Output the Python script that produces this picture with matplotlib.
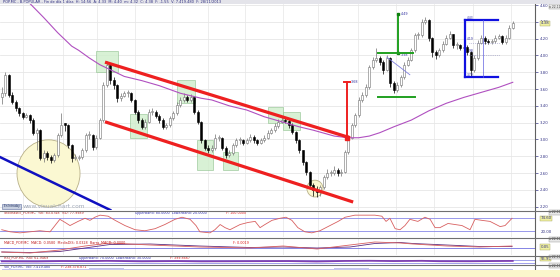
import matplotlib
matplotlib.use('Agg')
import matplotlib.pyplot as plt
from matplotlib.patches import Rectangle, Ellipse
from matplotlib.lines import Line2D

# ---- daily candles (one bar ~ 2 sessions) ----
opens = [3.50,3.55,3.77,3.53,3.45,3.37,3.31,3.27,3.29,3.23,
         3.08,3.11,2.78,2.84,2.79,2.75,2.81,3.05,3.19,3.17,
         2.93,2.78,2.78,2.79,2.87,3.05,3.05,2.91,3.02,3.23,
         3.65,3.89,3.71,3.65,3.49,3.52,3.55,3.55,3.47,3.33,
         3.23,3.15,3.21,3.33,3.33,3.28,3.23,3.15,3.17,3.25,
         3.31,3.41,3.47,3.51,3.47,3.50,3.33,3.21,2.99,2.90,
         2.87,2.90,3.02,3.02,2.90,2.81,2.84,2.93,2.99,2.99,
         2.96,2.99,3.03,2.99,2.96,2.99,3.02,3.08,3.11,3.16,
         3.21,3.23,3.22,3.17,3.09,2.99,2.87,2.73,2.61,2.46,
         2.40,2.37,2.43,2.55,2.60,2.60,2.64,2.60,2.61,2.85,
         3.02,3.17,3.29,3.47,3.53,3.62,3.86,3.95,3.97,3.92,
         3.83,3.97,3.67,3.59,3.65,3.74,3.89,3.95,4.06,4.24,
         4.24,4.40,4.42,4.21,4.04,4.00,4.06,4.14,4.21,4.25,
         4.12,4.12,4.09,4.10,4.04,3.83,3.97,4.15,4.21,4.17,
         4.16,4.17,4.21,4.23,4.16,4.21,4.33]
highs = [3.62,3.80,3.78,3.56,3.47,3.39,3.33,3.31,3.30,3.25,
         3.14,3.12,2.88,2.86,2.81,2.84,3.08,3.31,3.20,3.18,
         2.95,2.83,2.82,2.90,3.08,3.10,3.06,3.05,3.26,3.68,
         3.93,3.90,3.74,3.66,3.55,3.58,3.59,3.57,3.48,3.35,
         3.25,3.24,3.36,3.37,3.35,3.30,3.25,3.20,3.28,3.34,
         3.44,3.50,3.55,3.53,3.54,3.51,3.35,3.22,3.01,2.93,
         2.93,3.06,3.05,3.03,2.92,2.87,2.96,3.02,3.03,3.01,
         3.02,3.06,3.05,3.01,3.02,3.05,3.11,3.14,3.19,3.24,
         3.27,3.26,3.24,3.19,3.10,3.00,2.88,2.74,2.62,2.48,
         2.44,2.46,2.58,2.65,2.64,2.68,2.66,2.65,2.88,3.05,
         3.20,3.32,3.50,3.57,3.66,3.89,3.98,4.09,3.99,3.94,
         4.00,3.98,3.69,3.68,3.77,3.92,3.98,4.09,4.27,4.28,
         4.43,4.46,4.43,4.22,4.06,4.09,4.17,4.24,4.29,4.26,
         4.16,4.14,4.14,4.12,4.05,4.00,4.18,4.24,4.23,4.20,
         4.20,4.24,4.26,4.24,4.24,4.36,4.41]
lows = [3.42,3.52,3.50,3.42,3.34,3.28,3.24,3.25,3.20,3.05,
        2.87,2.75,2.73,2.76,2.72,2.73,2.79,3.03,3.10,2.90,
        2.73,2.75,2.76,2.77,2.85,3.00,2.88,2.89,3.00,3.21,
        3.62,3.66,3.60,3.44,3.46,3.50,3.51,3.45,3.30,3.20,
        3.12,3.13,3.19,3.29,3.25,3.20,3.12,3.13,3.15,3.23,
        3.29,3.39,3.45,3.44,3.45,3.30,3.18,2.96,2.87,2.84,
        2.85,2.88,2.98,2.87,2.78,2.79,2.82,2.91,2.95,2.93,
        2.94,2.97,2.96,2.93,2.94,2.97,3.00,3.06,3.09,3.14,
        3.19,3.19,3.14,3.06,2.96,2.84,2.70,2.58,2.42,2.33,
        2.31,2.33,2.41,2.53,2.56,2.58,2.57,2.56,2.60,2.83,
        3.00,3.15,3.27,3.44,3.50,3.60,3.84,3.92,3.88,3.78,
        3.81,3.62,3.55,3.57,3.63,3.72,3.87,3.93,4.04,4.19,
        4.22,4.37,4.17,3.98,3.96,3.98,4.04,4.12,4.19,4.09,
        4.08,4.06,4.06,4.00,3.75,3.80,3.95,4.13,4.14,4.13,
        4.13,4.15,4.19,4.13,4.14,4.19,4.31]
closes = [3.55,3.77,3.53,3.45,3.37,3.31,3.27,3.29,3.23,3.08,
          3.11,2.78,2.84,2.79,2.75,2.81,3.05,3.17,3.17,2.93,
          2.78,2.78,2.79,2.87,3.05,3.05,2.91,3.02,3.23,3.65,
          3.89,3.71,3.65,3.49,3.52,3.55,3.55,3.47,3.33,3.23,
          3.15,3.21,3.33,3.33,3.28,3.23,3.15,3.17,3.25,3.31,
          3.41,3.47,3.51,3.47,3.50,3.33,3.21,2.99,2.90,2.87,
          2.90,3.02,3.02,2.90,2.81,2.84,2.93,2.99,2.99,2.96,
          2.99,3.03,2.99,2.96,2.99,3.02,3.08,3.11,3.16,3.21,
          3.23,3.22,3.17,3.09,2.99,2.87,2.73,2.61,2.46,2.40,
          2.37,2.43,2.55,2.60,2.60,2.64,2.60,2.61,2.85,3.02,
          3.17,3.29,3.47,3.53,3.62,3.86,3.95,3.97,3.92,3.83,
          3.97,3.67,3.59,3.65,3.74,3.89,3.95,4.06,4.24,4.24,
          4.40,4.42,4.21,4.04,4.00,4.06,4.14,4.21,4.25,4.12,
          4.12,4.09,4.10,4.04,3.83,3.97,4.15,4.21,4.17,4.16,
          4.17,4.21,4.23,4.16,4.21,4.33,4.38]

# 200 session moving average (purple)
ma_idx = [8,12,16,20,22,25,28,31,35,40,45,51,57,60,65,70,75,80,85,89,95,99,102,105,108,112,117,122,127,132,137,142,146]
ma_val = [4.62,4.45,4.27,4.11,4.06,3.97,3.89,3.83,3.75,3.70,3.64,3.55,3.49,3.47,3.40,3.35,3.27,3.21,3.15,3.11,3.04,3.02,3.02,3.04,3.08,3.15,3.23,3.34,3.43,3.50,3.56,3.62,3.68]

month_pos = [6.1,17.5,27.2,38.1,48.6,58.9,69.5,80.4,90.4,101.8,112.6,123.5,134.6,145.5]
month_lbl = ['Nov','Dic','13','Feb','Mar','Abr','May','Jun','Jul','Ago','Sep','Oct','Nov','Dic']
price_ticks = [2.20,2.40,2.60,2.80,3.00,3.20,3.40,3.60,3.80,4.00,4.20,4.40,4.60]

# drawn studies
chan_up = ([29.5, 99.5], [3.92, 3.02])
chan_low = ([29.5, 100.4], [3.21, 2.255])
blue_trend = ([-0.5, 31.0], [2.79, 2.16])
green_boxes = [(26.9,33.2,3.80,4.05),(36.6,41.5,3.02,3.30),(50.2,55.2,3.43,3.71),
               (55.8,60.4,2.64,2.99),(63.2,67.5,2.64,2.85),(76.1,80.4,3.20,3.39),
               (80.4,85.2,3.11,3.33)]

# indicators
sto_idx = [0,2.4,5.2,8.1,10.9,13.8,16.6,18.1,19.5,21.8,23.8,25.2,26.6,28.1,30.4,32.4,35.2,38.1,40.9,43.8,
           46.6,49.5,51.5,53.8,55.5,56.6,59.5,60.9,62.4,63.8,65.2,68.1,70.4,72.4,73.8,75.2,77.2,79.5,81.2,82.9,
           84.6,86.6,88.6,90.9,93.2,96.1,98.1,100.9,103.8,106.6,108.6,109.8,110.9,112.4,113.8,115.2,116.6,118.9,120.9,122.4,
           123.8,125.2,127.5,129.5,131.5,133.8,135.2,137.2,139.5,142.4,143.8,145.8]
sto_val = [25,15,10,15,20,15,75,60,45,65,80,70,85,95,90,70,45,25,20,30,
           50,75,85,75,45,15,10,25,50,35,25,50,60,65,35,50,70,80,85,70,
           35,15,10,20,40,65,85,95,95,95,90,65,80,30,25,45,75,65,85,75,
           35,35,55,50,45,25,75,70,65,40,45,80]
macd_idx = [0,8.1,16.6,23.8,30.9,42.4,56.6,70.9,80.4,90.1,99.5,106.6,113.8,117.5,127.2,136.6,145.8]
macd_val = [-0.05,-0.06,-0.03,0.01,0.04,0.02,0.0,-0.01,0.01,-0.02,0.02,0.05,0.04,0.03,0.01,0.0,0.01]
macd_sig = [-0.05,-0.055,-0.045,-0.01,0.025,0.03,0.01,-0.005,0.0,-0.01,0.0,0.035,0.045,0.035,0.02,0.005,0.005]
rsi_idx = [0,10,17,25,30,40,50,57,65,75,82,90,98,105,112,120,125,134,140,146]
rsi_val = [42,38,55,52,65,42,55,40,45,52,55,35,60,68,55,66,48,45,55,62]
vol_idx = [0,10,20,30,40,50,60,70,80,90,100,110,120,130,140,146]
vol_val = [20,22,18,30,20,18,22,16,18,25,35,24,20,18,16,17]

W, H = 560, 277
fig = plt.figure(figsize=(5.6, 2.77), dpi=100)
fig.patch.set_facecolor('white')

def box(top, bottom, width=535):
    return [0, 1 - bottom / H, width / W, (bottom - top) / H]

XL = (-0.5, 535 / 3.5 - 0.5)
ax = fig.add_axes(box(4, 210))
ax_sto = fig.add_axes(box(211, 237))
ax_macd = fig.add_axes(box(238, 255))
ax_rsi = fig.add_axes(box(256, 264.5))
ax_vol = fig.add_axes(box(265, 270))
ax_date = fig.add_axes(box(270, 277))

for a in [ax, ax_sto, ax_macd, ax_rsi, ax_vol, ax_date]:
    a.set_xlim(*XL)
    a.set_xticks([])
    a.set_yticks([])
    for s in a.spines.values():
        s.set_visible(False)
    a.spines['right'].set_visible(True)
    a.spines['right'].set_color('#606060')
    a.spines['right'].set_linewidth(0.8)

# header and bands
fig.patches.append(Rectangle((0, 1 - 4 / H), 1, 4 / H, transform=fig.transFigure,
                             facecolor='#e4e4ea', edgecolor='none'))
fig.text(3 / W, 1 - 2.2 / H, 'POP.MC - B.POPULAR - Fin de día 1 días  H: 14:56  A: 4.33  M: 4.40  m: 4.32  '
         'C: 4.38  F: -1.55  V: 7.419.480  F: 28/11/2013', fontsize=2.6, color='#303080', va='center')
fig.patches.append(Rectangle((0, 0), 1, 7 / H, transform=fig.transFigure,
                             facecolor='#fbf6cc', edgecolor='none', zorder=0))
ax_date.set_facecolor('none')
ax_date.spines['right'].set_visible(False)
for y in [210.5, 237.5, 255.5, 264.8]:
    fig.lines.append(Line2D([0, 1], [1 - y / H] * 2, transform=fig.transFigure,
                            color='#707070', lw=0.8))

# ---- main price panel ----
ax.set_ylim(2.16, 4.612)
for p in price_ticks:
    ax.axhline(p, color='#e2e2e2', lw=0.5, zorder=0)
for m in month_pos:
    for a in [ax, ax_sto, ax_macd]:
        a.axvline(m, color='#e6e6e6', lw=0.5, zorder=0)

ax.add_patch(Ellipse((13.36, 2.595), 18, 0.80, facecolor='#fbf8d2', edgecolor='#b8b088', lw=0.6, zorder=1))
ax.add_patch(Ellipse((89.5, 2.415), 4.6, 0.20, facecolor='#fbf8d2', edgecolor='#b8b088', lw=0.6, zorder=1))
for x0, x1, y0, y1 in green_boxes:
    ax.add_patch(Rectangle((x0, y0), x1 - x0, y1 - y0, facecolor='#cfeecb', edgecolor='#8cc08c',
                           lw=0.5, alpha=0.8, zorder=1))

idx = list(range(len(closes)))
up = [c >= o for o, c in zip(opens, closes)]
ax.vlines(idx, lows, highs, colors=['#707070' if u else '#000000' for u in up], lw=0.5, zorder=3)
bottoms = [min(o, c) for o, c in zip(opens, closes)]
heights = [max(abs(c - o), 0.01) for o, c in zip(opens, closes)]
ax.bar(idx, heights, bottom=bottoms, width=0.6,
       color=['white' if u else 'black' for u in up],
       edgecolor=['#707070' if u else 'black' for u in up], lw=0.4, zorder=4)

ax.plot(ma_idx, ma_val, color='#b050c0', lw=0.8, zorder=5)
ax.plot(*chan_up, color='#ee2020', lw=2.3, solid_capstyle='butt', zorder=6)
ax.plot(*chan_low, color='#ee2020', lw=2.3, solid_capstyle='butt', zorder=6)
ax.plot(*blue_trend, color='#1010c0', lw=1.8, zorder=6)

# red target
ax.plot([98.6, 98.6], [3.02, 3.68], color='#ee2020', lw=1.4, zorder=6)
ax.plot([97.8, 99.4], [3.68, 3.68], color='#ee2020', lw=1.4, zorder=6)
ax.plot([98.6], [3.02], marker='s', ms=3, color='#ee2020', zorder=6)
ax.text(99.8, 3.68, '3.68', fontsize=2.4, color='#3030a0', va='center')

# green target
ax.plot([113.2, 113.2], [4.03, 4.49], color='#20a020', lw=1.4, zorder=6)
ax.plot([113.2, 113.2], [4.03, 4.49], ls='none', marker='s', ms=2, color='#108010', zorder=6)
ax.plot([107.5, 117.5], [4.03, 4.03], color='#20a020', lw=1.4, zorder=6)
ax.plot([107.5, 118.0], [3.50, 3.50], color='#20a020', lw=1.4, zorder=6)
ax.text(114.0, 4.49, '4.49', fontsize=2.4, color='#3030a0', va='center')
ax.text(114.0, 4.01, '3.98', fontsize=2.4, color='#3030a0', va='center')
ax.plot([110.0, 116.6], [3.98, 3.77], color='#8080e0', lw=0.6, zorder=6)

# blue range bracket
ax.plot([132.4, 132.4], [3.74, 4.42], color='#1010e0', lw=1.6, zorder=6)
ax.plot([132.4, 141.8], [4.42, 4.42], color='#1010e0', lw=1.6, zorder=6)
ax.plot([132.4, 141.8], [3.74, 3.74], color='#1010e0', lw=1.6, zorder=6)
ax.plot([137.5, 137.5], [3.74, 4.42], color='#6060e0', lw=0.5, zorder=6)
ax.plot([133.5, 142.5], [4.00, 4.00], color='#9090c0', lw=0.5, ls=':', zorder=6)
ax.plot([133.5, 142.5], [4.15, 4.15], color='#9090c0', lw=0.5, ls=':', zorder=6)
for yv, t in [(4.44, '4.43'), (4.19, '4.19'), (4.05, '3.98'), (3.77, '3.79')]:
    ax.text(133.0, yv, t, fontsize=2.2, color='#3030a0', va='center')

ax.yaxis.tick_right()
ax.set_yticks(price_ticks)
ax.set_yticklabels(['%.2f' % p for p in price_ticks])
ax.tick_params(axis='y', labelsize=2.8, colors='#3a3a8a', length=2, width=0.5, pad=1.5)
ax.text(1.0, 1 - 0.6 / 206 * 3, '', transform=ax.transAxes)
ax.annotate('4.38', xy=(1.0, 4.38), xycoords=('axes fraction', 'data'), xytext=(4, 0),
            textcoords='offset points', fontsize=2.8, color='#303080', va='center',
            bbox=dict(boxstyle='square,pad=0.15', fc='#f0f0a0', ec='#a0a060', lw=0.3))

fig.patches.append(Rectangle((2 / W, 1 - 208.5 / H), 19 / W, 5 / H, transform=fig.transFigure,
                             facecolor='#c8d0e0', edgecolor='#6070a0', lw=0.4))
fig.text(11.5 / W, 1 - 206 / H, 'En Intraday', fontsize=2.0, color='#203060', ha='center', va='center')
fig.text(23 / W, 1 - 206 / H, 'www.visualchart.com', fontsize=4.2, color='#a0a8b8', va='center')

# ---- stochastic ----
ax_sto.set_ylim(-10, 115)
ax_sto.axhline(80, color='#8888e8', lw=0.6)
ax_sto.axhline(20, color='#8888e8', lw=0.6)
ax_sto.plot(sto_idx, sto_val, color='#d86060', lw=0.6)
ax_sto.text(0.6, 106, 'Stochastic_POP.MC  %K: 83.0748  %D: 77.9989  ', fontsize=2.4, color='#c02020', va='center')
ax_sto.text(38, 106, 'UpperBand: 80.0000  LowerBand: 20.0000', fontsize=2.4, color='#3030b0', va='center')
ax_sto.text(64, 106, 'F: 100.0000', fontsize=2.4, color='#e02020', va='center')
ax_sto.annotate('74.60', xy=(1.0, 80), xycoords=('axes fraction', 'data'), xytext=(4, 0),
                textcoords='offset points', fontsize=2.8, color='#303080', va='center',
                bbox=dict(boxstyle='square,pad=0.15', fc='#f0f0a0', ec='#a0a060', lw=0.3))
ax_sto.annotate('20.00', xy=(1.0, 15), xycoords=('axes fraction', 'data'), xytext=(4, 0),
                textcoords='offset points', fontsize=2.8, color='#303080', va='center')

# ---- MACD ----
ax_macd.set_ylim(-0.08, 0.09)
ax_macd.axhline(-0.005, color='#7070e0', lw=0.6)
ax_macd.plot(macd_idx, macd_sig, color='#603080', lw=0.6)
ax_macd.plot(macd_idx, macd_val, color='#d86060', lw=0.6)
ax_macd.text(0.6, 0.045, 'MACD_POP.MC  MACD: 0.0580  MediaDIS: 0.0328  Barra_MACD: 0.0000  ', fontsize=2.4,
             color='#c02020', va='center')
ax_macd.text(66, 0.045, 'F: 0.0019', fontsize=2.4, color='#e02020', va='center')
ax_macd.annotate('0.05', xy=(1.0, 0.0), xycoords=('axes fraction', 'data'), xytext=(4, 0),
                 textcoords='offset points', fontsize=2.8, color='#303080', va='center',
                 bbox=dict(boxstyle='square,pad=0.15', fc='#f0f0a0', ec='#a0a060', lw=0.3))

# ---- RSI ----
ax_rsi.set_ylim(3, 123)
ax_rsi.axhline(70, color='#9090e8', lw=0.6)
ax_rsi.axhline(30, color='#9090e8', lw=0.6)
ax_rsi.plot(rsi_idx, [50 + (v - 50) * 0.3 for v in rsi_val], color='#8040b0', lw=1.3)
ax_rsi.text(0.6, 100, 'RSI_POP.MC  RSI: 61.9469  ', fontsize=2.4, color='#c02020', va='center')
ax_rsi.text(22, 100, 'UpperBand: 70.0000  LowerBand: 30.0000', fontsize=2.4, color='#3030b0', va='center')
ax_rsi.text(48, 100, 'F: 399.8667', fontsize=2.4, color='#e02020', va='center')
ax_rsi.annotate('55.93', xy=(1.0, 80), xycoords=('axes fraction', 'data'), xytext=(4, 0),
                textcoords='offset points', fontsize=2.6, color='#303080', va='center',
                bbox=dict(boxstyle='square,pad=0.1', fc='#f0f0a0', ec='#a0a060', lw=0.3))

# ---- volume ----
ax_vol.set_ylim(0, 100)
ax_vol.fill_between(vol_idx, 0, vol_val, step='mid', color='#c4c4ee', lw=0)
ax_vol.text(0.6, 70, 'Vol_POP.MC  Vol: 7.419.480  ', fontsize=2.4, color='#3030b0', va='center')
ax_vol.text(17, 70, 'F: 238.378.871', fontsize=2.4, color='#e02020', va='center')

for a, yv in [(ax, 4.58), (ax_sto, 108), (ax_macd, 0.075), (ax_rsi, 110), (ax_vol, 85)]:
    a.annotate('a 22.11', xy=(1.0, yv), xycoords=('axes fraction', 'data'), xytext=(10, 0),
               textcoords='offset points', fontsize=2.2, color='#404040', va='center',
               bbox=dict(boxstyle='square,pad=0.1', fc='#e8e8e8', ec='#909090', lw=0.3))

# ---- date axis ----
ax_date.set_ylim(0, 1)
for m, lbl in zip(month_pos, month_lbl):
    ax_date.plot([m, m], [0.7, 1.0], color='#404040', lw=0.5)
    ax_date.text(m + 0.8, 0.45, lbl, fontsize=3, color='#303030', va='center')

fig.savefig('out.png', dpi=100)
